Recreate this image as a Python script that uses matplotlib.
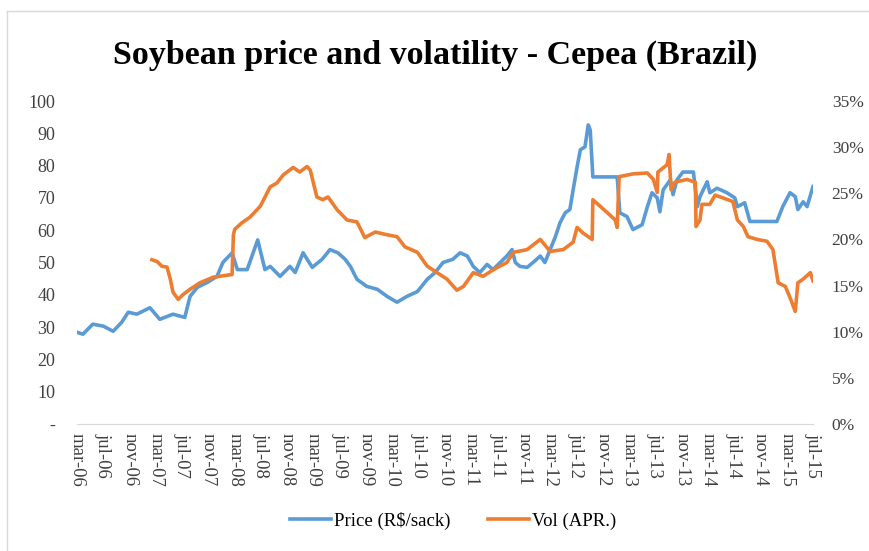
import matplotlib
matplotlib.use("Agg")
import matplotlib.pyplot as plt
from matplotlib.lines import Line2D
import numpy as np

plt.rcParams['font.family'] = ['Liberation Serif', 'DejaVu Serif']

# months counted from mar-06
price_month = [0, 0.9, 2.4, 4.0, 5.5, 6.8, 7.8, 9.1, 11.1, 12.6, 14.6, 16.4, 17.2, 18.3,
               19.8, 21.3, 22.2, 23.6, 24.4, 25.9, 27.5, 28.6, 29.4, 30.9, 32.4, 33.2,
               34.4, 35.8, 37.3, 38.5, 39.7, 40.8, 41.6, 42.6, 44.1, 45.7, 47.2, 48.7,
               50.2, 51.8, 53.3, 54.5, 55.7, 57.2, 58.3, 59.4, 60.3, 61.3, 62.4, 63.3,
               64.4, 65.4, 66.2, 66.7, 67.4, 68.5, 69.4, 70.5, 71.2, 72.0, 72.8, 73.5,
               74.3, 75.0, 75.5, 76.1, 76.6, 77.3, 77.8, 78.1, 78.5, 82.2, 82.6, 83.7,
               84.6, 86.0, 86.8, 87.5, 88.3, 88.7, 89.2, 90.3, 90.7, 91.3, 92.2, 93.8,
               94.4, 94.8, 95.9, 96.3, 97.4, 98.9, 100.1, 100.5, 101.6, 102.4, 106.5,
               107.4, 108.5, 109.3, 109.7, 110.5, 111.1, 112.0]
price = [28.4, 27.8, 30.9, 30.3, 28.7, 31.5, 34.6, 34.0, 36.0, 32.4, 34.0, 33.0, 39.5, 42.3,
         43.8, 45.7, 50.0, 53.0, 47.8, 47.8, 57.0, 47.8, 48.8, 45.7, 48.8, 46.9,
         53.0, 48.5, 51.0, 54.0, 53.0, 51.0, 48.8, 44.8, 42.6, 41.7, 39.5, 37.7,
         39.5, 41.0, 44.8, 46.9, 50.0, 51.0, 53.0, 52.0, 48.8, 46.9, 49.4, 47.8,
         50.0, 52.0, 54.0, 50.0, 48.8, 48.5, 50.0, 52.0, 50.0, 54.0, 58.0, 62.3,
         65.4, 66.4, 72.5, 79.6, 84.9, 85.8, 92.6, 91.0, 76.5, 76.5, 65.4, 64.2,
         60.2, 61.7, 67.3, 71.6, 70.0, 65.7, 72.5, 75.6, 71.0, 75.6, 78.0, 78.0,
         67.3, 70.4, 75.0, 71.6, 73.0, 71.6, 70.0, 67.3, 68.5, 62.7, 62.7,
         67.3, 71.6, 70.4, 66.4, 68.8, 67.3, 73.5]

vol_month = [11.4, 12.2, 12.9, 13.7, 14.2, 14.6, 15.4, 16.1, 17.2, 18.7, 20.7, 23.6, 23.8,
             24.0, 25.1, 26.3, 27.9, 29.4, 30.4, 31.4, 32.9, 33.9, 35.0, 35.5, 36.5,
             37.4, 38.2, 39.6, 41.1, 42.6, 43.8, 45.4, 47.2, 48.7, 49.9, 51.8, 53.3,
             54.8, 56.3, 57.8, 58.8, 60.3, 61.8, 63.3, 65.4, 66.4, 68.5, 70.5, 71.2,
             72.0, 74.0, 75.5, 76.1, 77.0, 77.8, 78.4, 78.5, 79.6, 80.7, 81.9, 82.2,
             82.5, 84.6, 86.8, 87.7, 88.3, 88.4, 89.8, 90.1, 90.4, 91.0, 92.8, 94.1,
             94.2, 94.8, 95.1, 96.3, 97.1, 98.3, 99.8, 100.5, 101.4, 102.1, 103.5,
             105.0, 105.9, 106.7, 107.8, 108.5, 109.3, 109.7, 110.5, 111.6, 112.0]
vol = [17.8, 17.6, 17.1, 17.0, 15.7, 14.3, 13.5, 14.0, 14.6, 15.3, 15.9, 16.2, 20.5,
       21.1, 21.8, 22.4, 23.6, 25.7, 26.1, 27.0, 27.8, 27.3, 27.9, 27.5, 24.6,
       24.3, 24.6, 23.2, 22.1, 21.9, 20.2, 20.8, 20.5, 20.3, 19.2, 18.6, 17.1,
       16.4, 15.7, 14.5, 14.9, 16.4, 16.0, 16.7, 17.5, 18.6, 18.9, 20.0, 19.4,
       18.7, 18.9, 19.7, 21.3, 20.7, 20.3, 20.0, 24.3, 23.6, 22.9, 22.1, 21.3,
       26.8, 27.1, 27.2, 26.5, 25.1, 27.3, 28.1, 29.2, 25.4, 26.2, 26.5, 26.2,
       21.4, 22.1, 23.8, 23.8, 24.8, 24.5, 24.1, 22.1, 21.4, 20.3, 20.0,
       19.8, 18.9, 15.3, 14.9, 13.7, 12.2, 15.3, 15.7, 16.4, 15.5]

tick_labels = ['mar-06', 'jul-06', 'nov-06', 'mar-07', 'jul-07', 'nov-07', 'mar-08',
               'jul-08', 'nov-08', 'mar-09', 'jul-09', 'nov-09', 'mar-10', 'jul-10',
               'nov-10', 'mar-11', 'jul-11', 'nov-11', 'mar-12', 'jul-12', 'nov-12',
               'mar-13', 'jul-13', 'nov-13', 'mar-14', 'jul-14', 'nov-14', 'mar-15',
               'jul-15']

blue = '#5B9BD5'
orange = '#ED7D31'

fig = plt.figure(figsize=(8.7, 5.51), dpi=100)
ax = fig.add_axes([77/870, 1-424/551, (813-77)/870, (424-101)/551])
ax2 = ax.twinx()

l1, = ax.plot(price_month, price, color=blue, lw=2.6, solid_joinstyle='round')
l2, = ax2.plot(vol_month, vol, color=orange, lw=2.6, solid_joinstyle='round')

ax.set_xlim(0, 112)
ax.set_ylim(0, 100)
ax2.set_ylim(0, 35)

ax.set_xticks(np.arange(0, 113, 4))
ax.set_xticklabels(tick_labels, rotation=-90, fontsize=13.5, color='#404040')
ax.set_yticks(np.arange(0, 101, 10))
ax.set_yticklabels(['-'] + [str(v) for v in range(10, 101, 10)], fontsize=13, color='#404040')
ax2.set_yticks(np.arange(0, 36, 5))
ax2.set_yticklabels([f'{v}%' for v in range(0, 36, 5)], fontsize=12.5, color='#404040')

# pads in points (px * 0.72)
ax.tick_params(axis='y', length=0, pad=15.5)
ax2.tick_params(axis='y', length=0, pad=13.5)
ax.tick_params(axis='x', length=0, pad=6.5)

for a in (ax, ax2):
    for s in ['top', 'left', 'right']:
        a.spines[s].set_visible(False)
    a.spines['bottom'].set_color('#D9D9D9')
ax2.spines['bottom'].set_visible(False)

fig.text(0.5, 1-55/551, 'Soybean price and volatility - Cepea (Brazil)', ha='center', va='center',
         fontsize=24.5, fontweight='bold', color='black')

fig.legend([l1, l2], ['Price (R$/sack)', 'Vol (APR.)'], loc='center',
           bbox_to_anchor=(453/870, 1-521/551), ncol=2, frameon=False, fontsize=13.5,
           handlelength=2.2, columnspacing=2.0, handletextpad=0.15)

# light frame around chart
fig.add_artist(Line2D([7/870, 7/870], [0, 1-11/551], color='#D9D9D9', lw=1))
fig.add_artist(Line2D([7/870, 1], [1-11/551, 1-11/551], color='#D9D9D9', lw=1))

fig.savefig('out.png', dpi=100)
